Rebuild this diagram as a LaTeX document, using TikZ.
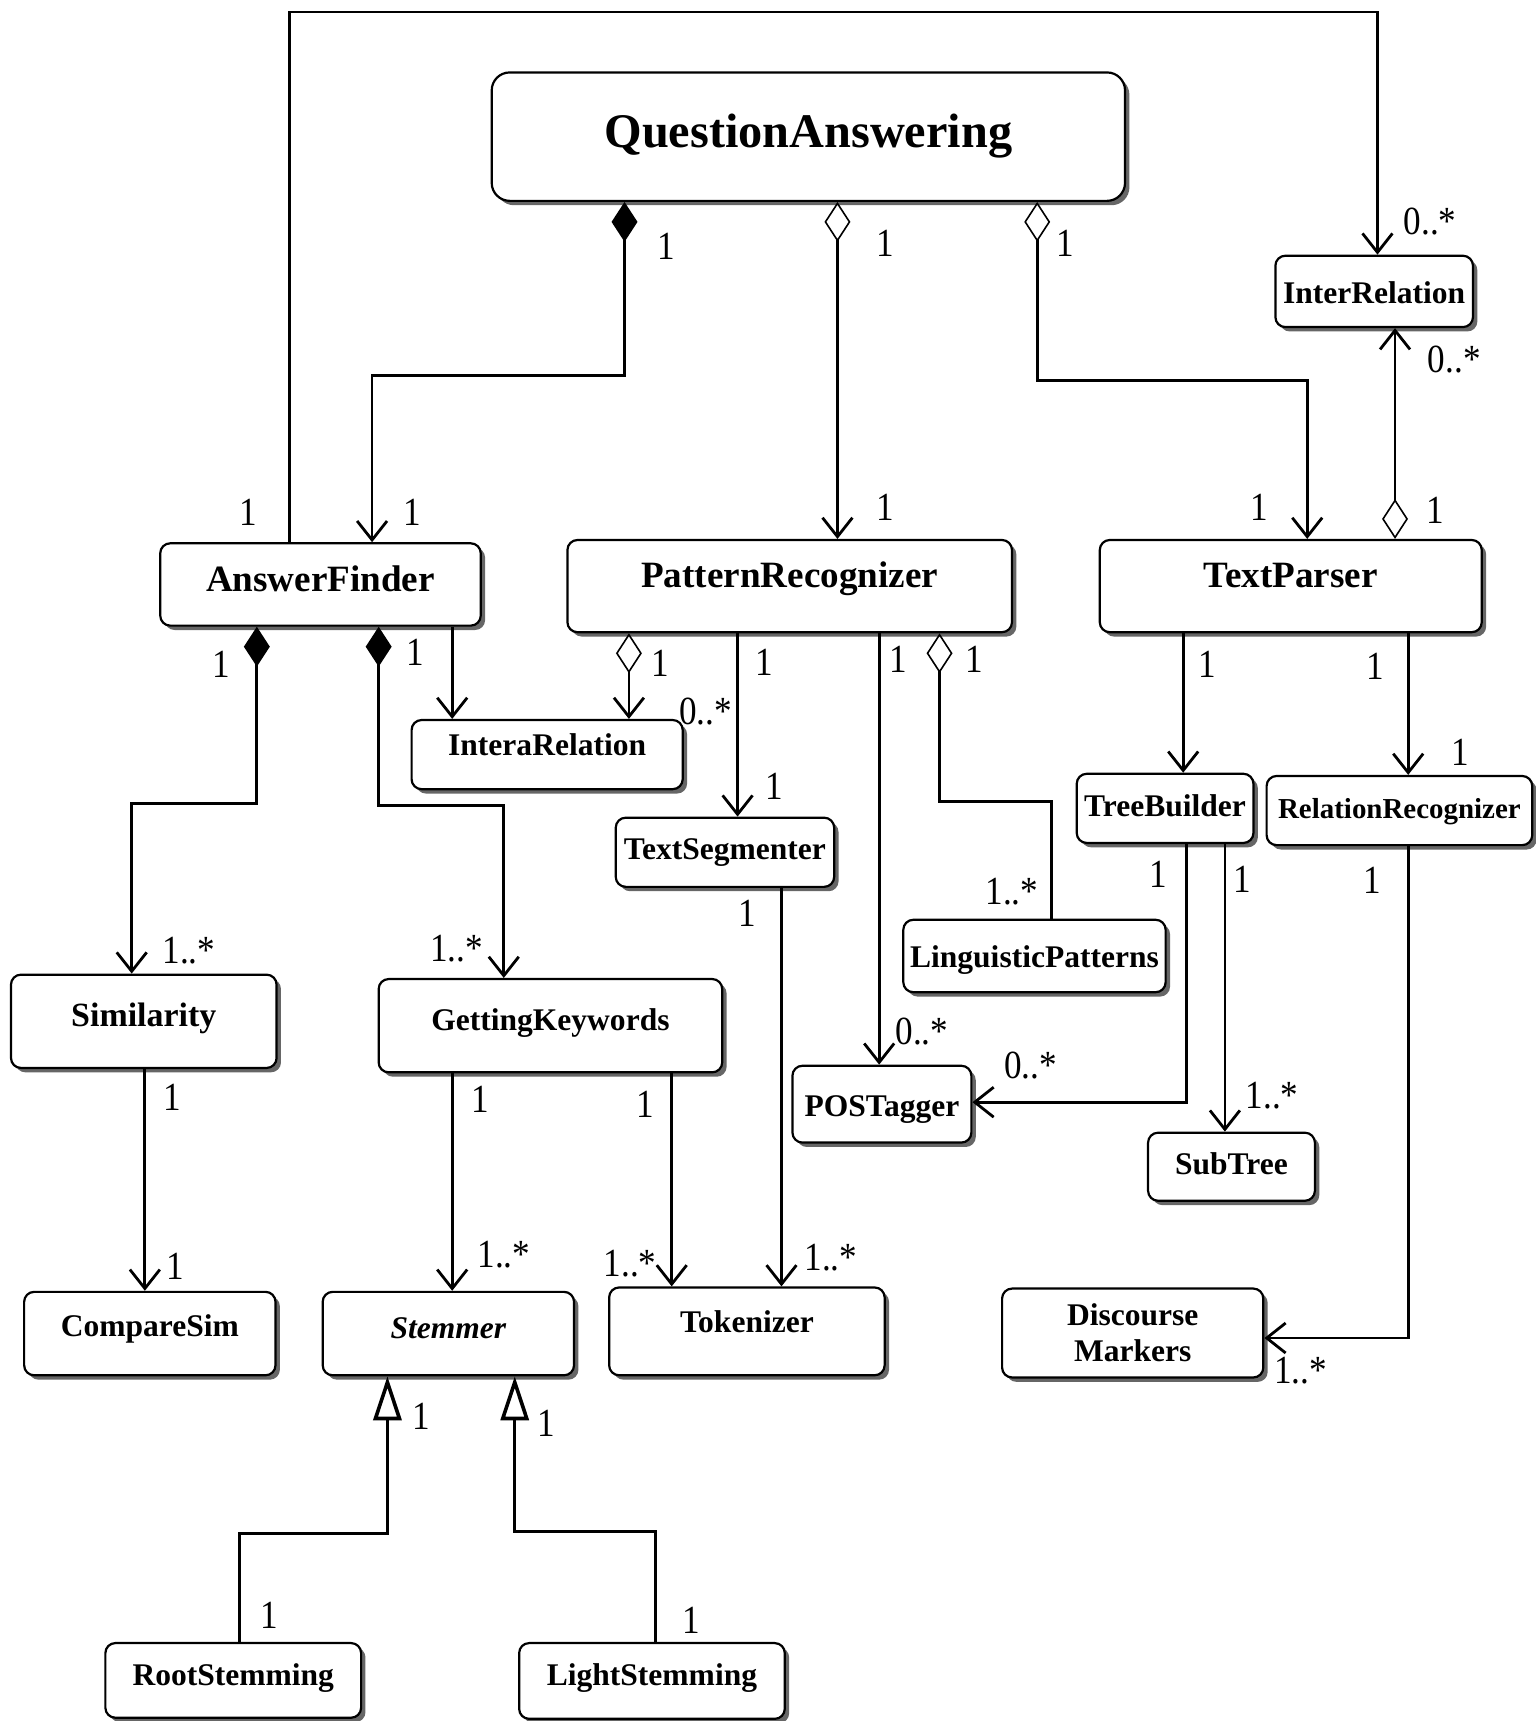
\documentclass[tikz,border=0pt]{standalone}
\usepackage{fontspec}
\newfontfamily\umlfont{Liberation Serif}[FakeStretch=0.88]
\newfontfamily\clsfont{Liberation Serif}
\usetikzlibrary{arrows.meta,shadows}
\newcommand\pxu{0.55pt}

\begin{document}
\begin{tikzpicture}[x=0.55pt,y=-0.55pt,
  cls/.style={rectangle,draw,line width=1.1pt,rounded corners=5pt,fill=white,inner sep=0pt,
    drop shadow={shadow xshift=2.2pt,shadow yshift=-2.2pt,fill=black!60,opacity=1},
    font=\clsfont\bfseries\fontsize{18.6}{19}\selectfont},
  nm/.style={text height=12pt,text depth=#1},
  nm/.default=0pt,
  wh/.style 2 args={minimum width=#1*\pxu,minimum height=#2*\pxu},
  mult/.style={font=\umlfont\fontsize{20}{22}\selectfont,inner sep=0pt},
  edge/.style={line width=1.4pt},
  assoc/.style={edge,-{Straight Barb[length=9.5pt,width=15pt]}},
  comp/.style={edge,{Diamond[length=20pt,width=13pt,line width=0.8pt]}-{Straight Barb[length=9.5pt,width=15pt]}},
  aggr/.style={edge,{Diamond[open,length=20pt,width=13pt,line width=0.8pt]}-{Straight Barb[length=9.5pt,width=15pt]}},
  aggrline/.style={edge,{Diamond[open,length=20pt,width=13pt,line width=0.8pt]}-},
  gen/.style={edge,-{Triangle[open,length=22pt,width=14pt,line width=1.8pt]}}
]
\useasboundingbox (0,0) rectangle (1399,1568);

\node[cls,wh={577}{117},rounded corners=9pt,font=\clsfont\bfseries\fontsize{24.2}{25}\selectfont,text height=16pt,text depth=5pt] (qa) at (736.5,124.5) {QuestionAnswering};
\node[cls,nm,wh={180}{65},font=\clsfont\bfseries\fontsize{15.8}{16}\selectfont] (ir) at (1252,265.5) {InterRelation};
\node[cls,nm=5pt,wh={292}{75}] (af) at (292,532.5) {AnswerFinder};
\node[cls,nm=11pt,wh={405}{84}] (pr) at (719.5,534) {PatternRecognizer};
\node[cls,nm=11pt,wh={348}{84}] (tp) at (1176,534) {TextParser};
\node[cls,nm=11.5pt,wh={247}{63},font=\clsfont\bfseries\fontsize{15.8}{16}\selectfont] (iar) at (498.5,687.5) {InteraRelation};
\node[cls,nm=5pt,wh={199}{63},font=\clsfont\bfseries\fontsize{15.8}{16}\selectfont] (ts) at (660.5,776.5) {TextSegmenter};
\node[cls,nm=4pt,wh={161}{63},font=\clsfont\bfseries\fontsize{15.8}{16}\selectfont] (tb) at (1061.5,736.5) {TreeBuilder};
\node[cls,nm=4pt,wh={242}{63},font=\clsfont\bfseries\fontsize{14.5}{15}\selectfont] (rr) at (1275,738.5) {RelationRecognizer};
\node[cls,nm,wh={239}{66},font=\clsfont\bfseries\fontsize{15.8}{16}\selectfont] (lp) at (942.5,871) {LinguisticPatterns};
\node[cls,nm=7pt,wh={242}{85},font=\clsfont\bfseries\fontsize{17}{17}\selectfont] (sim) at (131,930.5) {Similarity};
\node[cls,nm=7pt,wh={313}{85},font=\clsfont\bfseries\fontsize{15.8}{16}\selectfont] (gk) at (501.5,934.5) {GettingKeywords};
\node[cls,nm,wh={163}{70},font=\clsfont\bfseries\fontsize{15.8}{16}\selectfont] (pos) at (803.5,1006) {POSTagger};
\node[cls,nm=4.5pt,wh={152}{62},font=\clsfont\bfseries\fontsize{15.8}{16}\selectfont] (st) at (1122,1063) {SubTree};
\node[cls,nm=9pt,wh={229}{76},font=\clsfont\bfseries\fontsize{15.8}{16}\selectfont] (cs) at (136.5,1215) {CompareSim};
\node[cls,nm=6.6pt,wh={229}{76},font=\clsfont\bfseries\itshape\fontsize{15.8}{16}\selectfont] (stm) at (408.5,1215) {Stemmer};
\node[cls,nm=11pt,wh={251}{80},font=\clsfont\bfseries\fontsize{15.8}{16}\selectfont] (tok) at (680.5,1213) {Tokenizer};
\node[cls,wh={238}{81},align=center,font=\clsfont\bfseries\fontsize{15.8}{18}\selectfont] (dm) at (1032,1214.5) {Discourse\\Markers};
\node[cls,nm=6.6pt,wh={233}{68},font=\clsfont\bfseries\fontsize{15.8}{16}\selectfont] (rs) at (212.5,1531) {RootStemming};
\node[cls,nm=7pt,wh={242}{69},font=\clsfont\bfseries\fontsize{15.8}{16}\selectfont] (ls) at (594,1531.5) {LightStemming};

\draw[assoc] (264,0 |- af.north) -- (264,11) -| (1255,0 |- ir.north);
\draw[comp] (569,0 |- qa.south) -- (569,342) -| (339,0 |- af.north);
\draw[aggr] (763,0 |- qa.south) -- (763,0 |- pr.north);
\draw[aggr] (945,0 |- qa.south) -- (945,347) -| (1191,0 |- tp.north);
\draw[aggr] (1271,0 |- tp.north) -- (1271,0 |- ir.south);
\draw[assoc] (412,0 |- af.south) -- (412,0 |- iar.north);
\draw[aggr] (573,0 |- pr.south) -- (573,0 |- iar.north);
\draw[assoc] (672,0 |- pr.south) -- (672,0 |- ts.north);
\draw[assoc] (801,0 |- pr.south) -- (801,0 |- pos.north);
\draw[aggrline] (856,0 |- pr.south) -- (856,730) -| (958,0 |- lp.north);
\draw[comp] (234,0 |- af.south) -- (234,732) -| (120,0 |- sim.north);
\draw[comp] (345,0 |- af.south) -- (345,734) -| (459,0 |- gk.north);
\draw[assoc] (1078,0 |- tp.south) -- (1078,0 |- tb.north);
\draw[assoc] (1283,0 |- tp.south) -- (1283,0 |- rr.north);
\draw[assoc] (1081,0 |- tb.south) |- ([yshift=1pt]pos.east);
\draw[assoc] (1116,0 |- tb.south) -- (1116,0 |- st.north);
\draw[assoc] (1283,0 |- rr.south) |- ([yshift=-2.5pt]dm.east);
\draw[assoc] (132,0 |- sim.south) -- (132,0 |- cs.north);
\draw[assoc] (412,0 |- gk.south) -- (412,0 |- stm.north);
\draw[assoc] (612,0 |- gk.south) -- (612,0 |- tok.north);
\draw[assoc] (712,0 |- ts.south) -- (712,0 |- tok.north);
\draw[gen] (218,0 |- rs.north) -- (218,1397) -| (353,0 |- stm.south);
\draw[gen] (597,0 |- ls.north) -- (597,1395) -| (469,0 |- stm.south);

\foreach \x/\y/\t [count=\i] in {226/467/1, 1303/202/0..*, 607/224/1, 376/467/1,
  807/222/1, 807/462/1, 971/222/1, 1147/462/1, 1308/465/1, 1325/328/0..*,
  602/604/1, 643/648/0..*, 696/603/1, 705/716/1, 818/601/1, 840/940/0..*,
  888/601/1, 922/812/1..*, 202/605/1, 172/866/1..*, 378/594/1, 416/864/1..*,
  1100/605/1, 1253/607/1, 1330/685/1, 1055/797/1, 939/971/0..*, 1132/801/1,
  1159/998/1..*, 1250/802/1, 1185/1249/1..*, 157/1000/1, 160/1154/1,
  438/1002/1, 459/1143/1..*, 588/1006/1, 574/1151/1..*, 681/832/1,
  757/1146/1..*, 384/1290/1, 245/1472/1, 498/1297/1, 630/1476/1}
  \node[mult] (m\i) at (\x,\y) {\t};
\end{tikzpicture}
\end{document}
